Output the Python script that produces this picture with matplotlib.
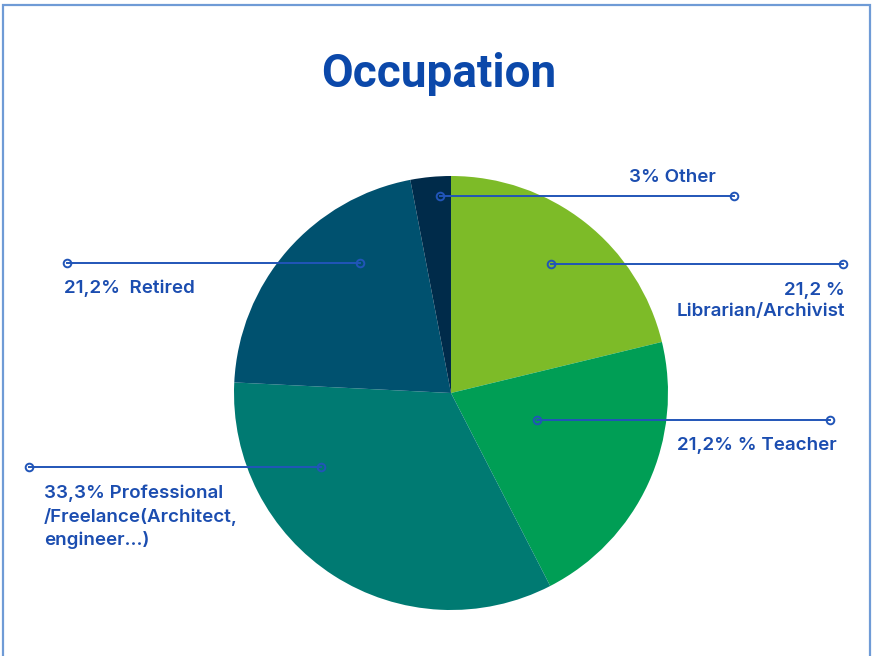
import matplotlib
matplotlib.use("Agg")
from matplotlib import pyplot as plt
from matplotlib.patches import Rectangle

# data (clockwise from 12 o'clock)
labels = ["Librarian/Archivist", "Teacher", "Professional/Freelance", "Retired", "Other"]
shares = [21.2, 21.2, 33.3, 21.2, 3.0]
colors = ["#7dbb28", "#009e55", "#007a72", "#00516f", "#002b4a"]
label_texts = [
    "21,2 %\nLibrarian/Archivist",
    "21,2% % Teacher",
    "33,3% Professional\n/Freelance(Architect,\nengineer...)",
    "21,2%  Retired",
    "3% Other",
]

W, H = 873, 656
fig = plt.figure(figsize=(W / 100, H / 100), dpi=100)
ax = fig.add_axes([0, 0, 1, 1])

# pie in pixel-like coordinates (y measured from bottom)
cx, cy, r = 451, H - 393, 217
ax.pie(shares, colors=colors, startangle=90, counterclock=False,
       center=(cx, cy), radius=r, wedgeprops=dict(linewidth=0))
ax.set_xlim(0, W)
ax.set_ylim(0, H)
ax.set_aspect("equal")
ax.axis("off")

# frame
ax.add_patch(Rectangle((3, -10), 867, H - 5 + 10, fill=False,
                       edgecolor="#6f9bd6", linewidth=1.6, clip_on=False))

# title
ax.text(439, H - 74, "Occupation", ha="center", va="center",
        fontsize=33, fontweight="bold", color="#0b48aa", family="Roboto")

line_col = "#2155b8"
txt_col = "#1b4db0"
font = dict(family="Inter", fontsize=13.5, fontweight="semibold", color=txt_col)

# leader lines (x0, x1, y) and text anchors (x, y, ha)
lines = [(551, 843, 264), (537, 830, 420), (29, 321, 467), (67, 360, 263), (440, 734, 196)]
anchors = [(845, 301, "right"), (677, 445, "left"), (44, 517, "left"),
           (64, 288, "left"), (672, 177, "center")]

for (x0, x1, y), (tx, ty, ha), txt in zip(lines, anchors, label_texts):
    ax.plot([x0, x1], [H - y, H - y], color=line_col, linewidth=1.4,
            marker="o", markersize=5.5, markerfacecolor="none",
            markeredgecolor=line_col, markeredgewidth=1.4)
    ax.text(tx, H - ty, txt, ha=ha, va="center", multialignment=ha,
            linespacing=1.38, **font)

fig.savefig("out.png", dpi=100)
